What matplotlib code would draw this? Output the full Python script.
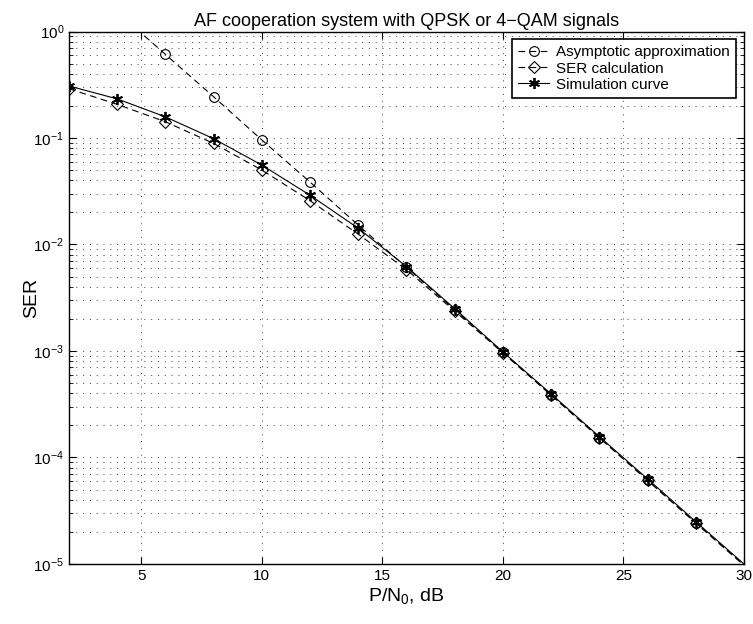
import numpy as np
import matplotlib
matplotlib.use('Agg')
import matplotlib.pyplot as plt
from matplotlib.ticker import LogLocator, NullFormatter

plt.rcParams['font.family'] = ['Liberation Sans', 'DejaVu Sans']
plt.rcParams['mathtext.fontset'] = 'custom'
plt.rcParams['mathtext.rm'] = 'Liberation Sans'
plt.rcParams['mathtext.it'] = 'Liberation Sans'

# --- data ---
snr_db = [2, 4, 6, 8, 10, 12, 14, 16, 18, 20, 22, 24, 26, 28, 30]
ser_asym = [3.85, 1.53, 0.61, 0.244, 0.0958, 0.0386, 0.0152, 0.0061, 0.00243,
            9.7e-4, 3.86e-4, 1.54e-4, 6.1e-5, 2.43e-5, 9.7e-6]
ser_calc = [0.29, 0.207, 0.142, 0.089, 0.050, 0.0258, 0.0125, 0.0058, 0.00237,
            9.6e-4, 3.85e-4, 1.53e-4, 6.1e-5, 2.43e-5, 9.8e-6]
ser_sim = [0.308, 0.233, 0.158, 0.0985, 0.0557, 0.029, 0.0142, 0.0062, 0.0025,
           9.8e-4, 3.95e-4, 1.57e-4, 6.3e-5, 2.5e-5, 1.0e-5]

title = "AF cooperation system with QPSK or 4\u2212QAM signals"
labels = ["Asymptotic approximation", "SER calculation", "Simulation curve"]

fig = plt.figure(figsize=(7.53, 6.24), dpi=100)
ax = fig.add_axes([0.0916, 0.0962, 0.8964, 0.8533])

dash = (0, (6, 4))
mk = slice(0, -1)
ax.semilogy(snr_db, ser_asym, color='k', ls=dash, lw=0.8, marker='o', ms=7,
            mfc='none', mec='k', mew=0.8, markevery=mk, label=labels[0])
ax.semilogy(snr_db, ser_calc, color='k', ls=dash, lw=0.8, marker='D', ms=6,
            mfc='none', mec='k', mew=0.8, markevery=mk, label=labels[1])
ax.semilogy(snr_db, ser_sim, color='k', ls='-', lw=0.8, marker=(6, 2, 0), ms=8,
            mfc='k', mec='k', mew=1.3, markevery=mk, label=labels[2])

ax.set_xlim(2, 30)
ax.set_ylim(1e-5, 1)
ax.set_xticks([5, 10, 15, 20, 25, 30])
ax.yaxis.set_major_locator(LogLocator(base=10, numticks=10))
ax.yaxis.set_minor_locator(LogLocator(base=10, subs=np.arange(2, 10), numticks=10))
ax.yaxis.set_minor_formatter(NullFormatter())

grid_style = dict(color='0.25', ls=(0, (1, 6)), lw=0.7)
ax.grid(True, which='major', axis='both', **grid_style)
ax.grid(True, which='minor', axis='y', **grid_style)

ax.tick_params(which='both', direction='in', top=True, right=True, labelsize=11)
ax.tick_params(which='major', length=5)
ax.tick_params(which='minor', length=3)
for s in ax.spines.values():
    s.set_linewidth(1.0)

ax.set_title(title, fontsize=13, pad=4)
ax.set_xlabel("P/N$_0$, dB", fontsize=14, labelpad=2)
ax.set_ylabel("SER", fontsize=14, labelpad=-5)

leg = ax.legend(loc='upper right', fontsize=11, fancybox=False, edgecolor='k',
                framealpha=1, handlelength=2.0, handletextpad=0.5,
                borderaxespad=0.5, labelspacing=0.15)
leg.get_frame().set_linewidth(1.2)

fig.savefig("out.png", dpi=100)
